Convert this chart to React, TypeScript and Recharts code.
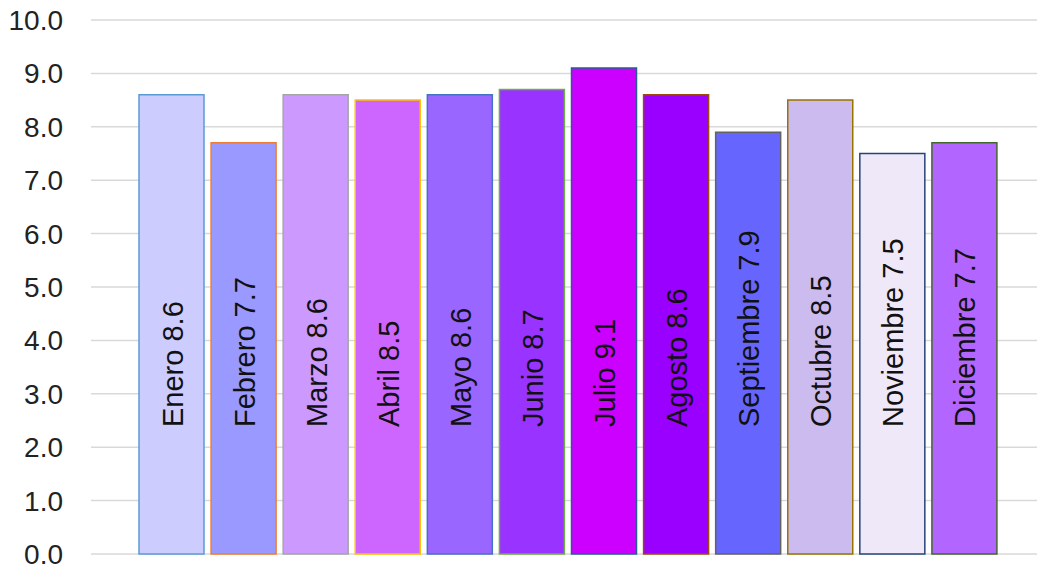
import { BarChart, Bar, XAxis, YAxis, CartesianGrid, Cell, LabelList } from 'recharts';

const months = [
  'Enero', 'Febrero', 'Marzo', 'Abril', 'Mayo', 'Junio',
  'Julio', 'Agosto', 'Septiembre', 'Octubre', 'Noviembre', 'Diciembre',
];

const values = [8.6, 7.7, 8.6, 8.5, 8.6, 8.7, 9.1, 8.6, 7.9, 8.5, 7.5, 7.7];

const fills = [
  '#ccccff', '#9999ff', '#cc99ff', '#cc66ff', '#9966ff', '#9933ff',
  '#cc00ff', '#9900ff', '#6666ff', '#ccbbee', '#eee8f8', '#b266ff',
];

const strokes = [
  '#5b9bd5', '#ed7d31', '#a5a5a5', '#ffc000', '#4472c4', '#70ad47',
  '#255e91', '#9e480e', '#636363', '#997300', '#264478', '#43682b',
];

const yTicks = [0, 1, 2, 3, 4, 5, 6, 7, 8, 9, 10];

const data = months.map((m, i) => ({ name: m, value: values[i] }));

const FONT = '"Liberation Sans", Arial, sans-serif';

function BarLabel(props: any) {
  const { x, width, index } = props;
  const cx = x + width / 2 + 11;
  const cy = 427;
  return (
    <text
      x={cx}
      y={cy}
      transform={`rotate(-90, ${cx}, ${cy})`}
      textAnchor="start"
      fontSize={29}
      fontFamily={FONT}
      fill="#111"
    >
      {`${months[index]} ${values[index].toFixed(1)}`}
    </text>
  );
}

export default function App() {
  return (
    <div style={{ position: 'absolute', left: 0, top: 0, width: 1037, height: 567, background: '#fff' }}>
      <BarChart
        width={1037}
        height={567}
        data={data}
        margin={{ top: 20, right: 0, bottom: 13, left: 0 }}
      >
        <CartesianGrid vertical={false} stroke="#d9d9d9" strokeWidth={1.5} />
        <XAxis dataKey="name" hide padding={{ left: 44, right: 37 }} />
        <YAxis
          width={91}
          domain={[0, 10]}
          ticks={yTicks}
          interval={0}
          axisLine={false}
          tickLine={false}
          tickSize={0}
          tickMargin={28}
          tickFormatter={(v: number) => v.toFixed(1)}
          tick={{ fontSize: 28, fontFamily: FONT, fill: '#222' }}
        />
        <Bar dataKey="value" barSize={65} isAnimationActive={false} strokeWidth={1.5}>
          {data.map((d, i) => (
            <Cell key={d.name} fill={fills[i]} stroke={strokes[i]} />
          ))}
          <LabelList dataKey="value" content={BarLabel} />
        </Bar>
      </BarChart>
    </div>
  );
}
